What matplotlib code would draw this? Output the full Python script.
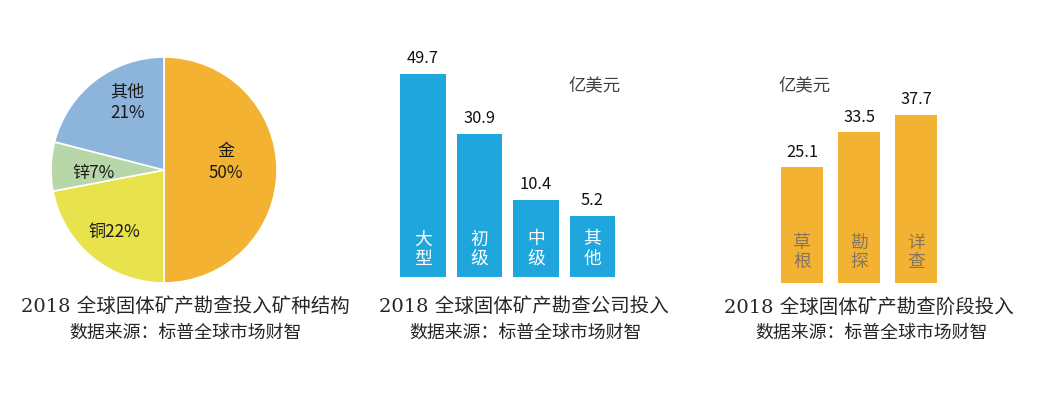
import matplotlib
matplotlib.use("Agg")
import matplotlib.pyplot as plt

plt.rcParams['font.family'] = ['Noto Sans CJK SC', 'DejaVu Sans']

# ---------------- data ----------------
pie_labels = ["金\n50%", "铜22%", "锌7%", "其他\n21%"]
pie_values = [50, 22, 7, 21]
pie_colors = ["#F4B233", "#E8E34C", "#B7D7A8", "#8DB5DB"]

company_cats = ["大\n型", "初\n级", "中\n级", "其\n他"]
company_vals = [49.7, 30.9, 10.4, 5.2]

stage_cats = ["草\n根", "勘\n探", "详\n查"]
stage_vals = [25.1, 33.5, 37.7]

titles = ["2018 全球固体矿产勘查投入矿种结构",
          "2018 全球固体矿产勘查公司投入",
          "2018 全球固体矿产勘查阶段投入"]
source = "数据来源：标普全球市场财智"
unit = "亿美元"

W, H = 1042, 395
fig = plt.figure(figsize=(W / 100, H / 100), dpi=100)


def px_axes(x0, y0, x1, y1):
    """axes from pixel box (top-left origin)"""
    return fig.add_axes([x0 / W, 1 - y1 / H, (x1 - x0) / W, (y1 - y0) / H])


# ---------------- pie ----------------
axp = px_axes(51, 57, 277, 283)
wedges, _ = axp.pie(pie_values, colors=pie_colors, startangle=90, counterclock=False,
                    radius=1, wedgeprops=dict(edgecolor="white", linewidth=1.2))
axp.set_xlim(-1, 1)
axp.set_ylim(-1, 1)
axp.set_aspect("equal")
axp.axis("off")
label_pos = [(0.55, 0.07), (-0.44, -0.55), (-0.62, -0.03), (-0.32, 0.60)]
for lab, (lx, ly) in zip(pie_labels, label_pos):
    axp.text(lx, ly, lab, ha="center", va="center", fontsize=12.3,
             color="#1a1a1a", linespacing=1.3)

# ---------------- company bars ----------------
off2 = 13.8  # visual baseline offset (bars start below zero, like the infographic)
ax2 = px_axes(380, 40, 640, 277)
x2 = range(len(company_vals))
ax2.bar(x2, [v + off2 for v in company_vals], bottom=-off2, width=0.81, color="#1FA6DD")
pitch2 = 56.5
ax2.set_xlim(-0.405 - 20 / pitch2, -0.405 + 240 / pitch2)
ax2.set_ylim(-off2, -off2 + 237 / 3.2)
ax2.axis("off")
for i, (c, v) in enumerate(zip(company_cats, company_vals)):
    ax2.annotate(f"{v}", (i, v), xytext=(0, 5), textcoords="offset points",
                 ha="center", va="bottom", fontsize=11.8, color="#111111")
    ax2.annotate(c, (i, -off2), xytext=(0, 20), textcoords="offset points",
                 ha="center", va="center", fontsize=12.8, color="white", linespacing=1.12)
fig.text(595 / W, 1 - 86 / H, unit, ha="center", va="center", fontsize=12.5, color="#404040")

# ---------------- stage bars ----------------
off3 = 2.6
ax3 = px_axes(760, 40, 960, 283)
x3 = range(len(stage_vals))
ax3.bar(x3, [v + off3 for v in stage_vals], bottom=-off3, width=42 / 57, color="#F4B233")
pitch3 = 57
ax3.set_xlim(-21 / pitch3 - 21 / pitch3, -21 / pitch3 + 179 / pitch3)
ax3.set_ylim(-off3, -off3 + 243 / 4.17)
ax3.axis("off")
for i, (c, v) in enumerate(zip(stage_cats, stage_vals)):
    ax3.annotate(f"{v}", (i, v), xytext=(0, 5), textcoords="offset points",
                 ha="center", va="bottom", fontsize=11.8, color="#111111")
    ax3.annotate(c, (i, -off3), xytext=(0, 22), textcoords="offset points",
                 ha="center", va="center", fontsize=12.8, color="#857560", linespacing=1.12)
fig.text(805 / W, 1 - 86 / H, unit, ha="center", va="center", fontsize=12.5, color="#404040")

# ---------------- titles ----------------
title_x = [185, 524, 869]
src_x = [185, 525, 871]
for t, tx, sx in zip(titles, title_x, src_x):
    fig.text(tx / W, 1 - 307 / H, t, ha="center", va="center", fontsize=14,
             color="#262626", family=['DejaVu Serif', 'Noto Sans CJK SC'])
    fig.text(sx / W, 1 - 333 / H, source, ha="center", va="center", fontsize=12.9,
             color="#262626")

fig.savefig("out.png", dpi=100, facecolor="white")
